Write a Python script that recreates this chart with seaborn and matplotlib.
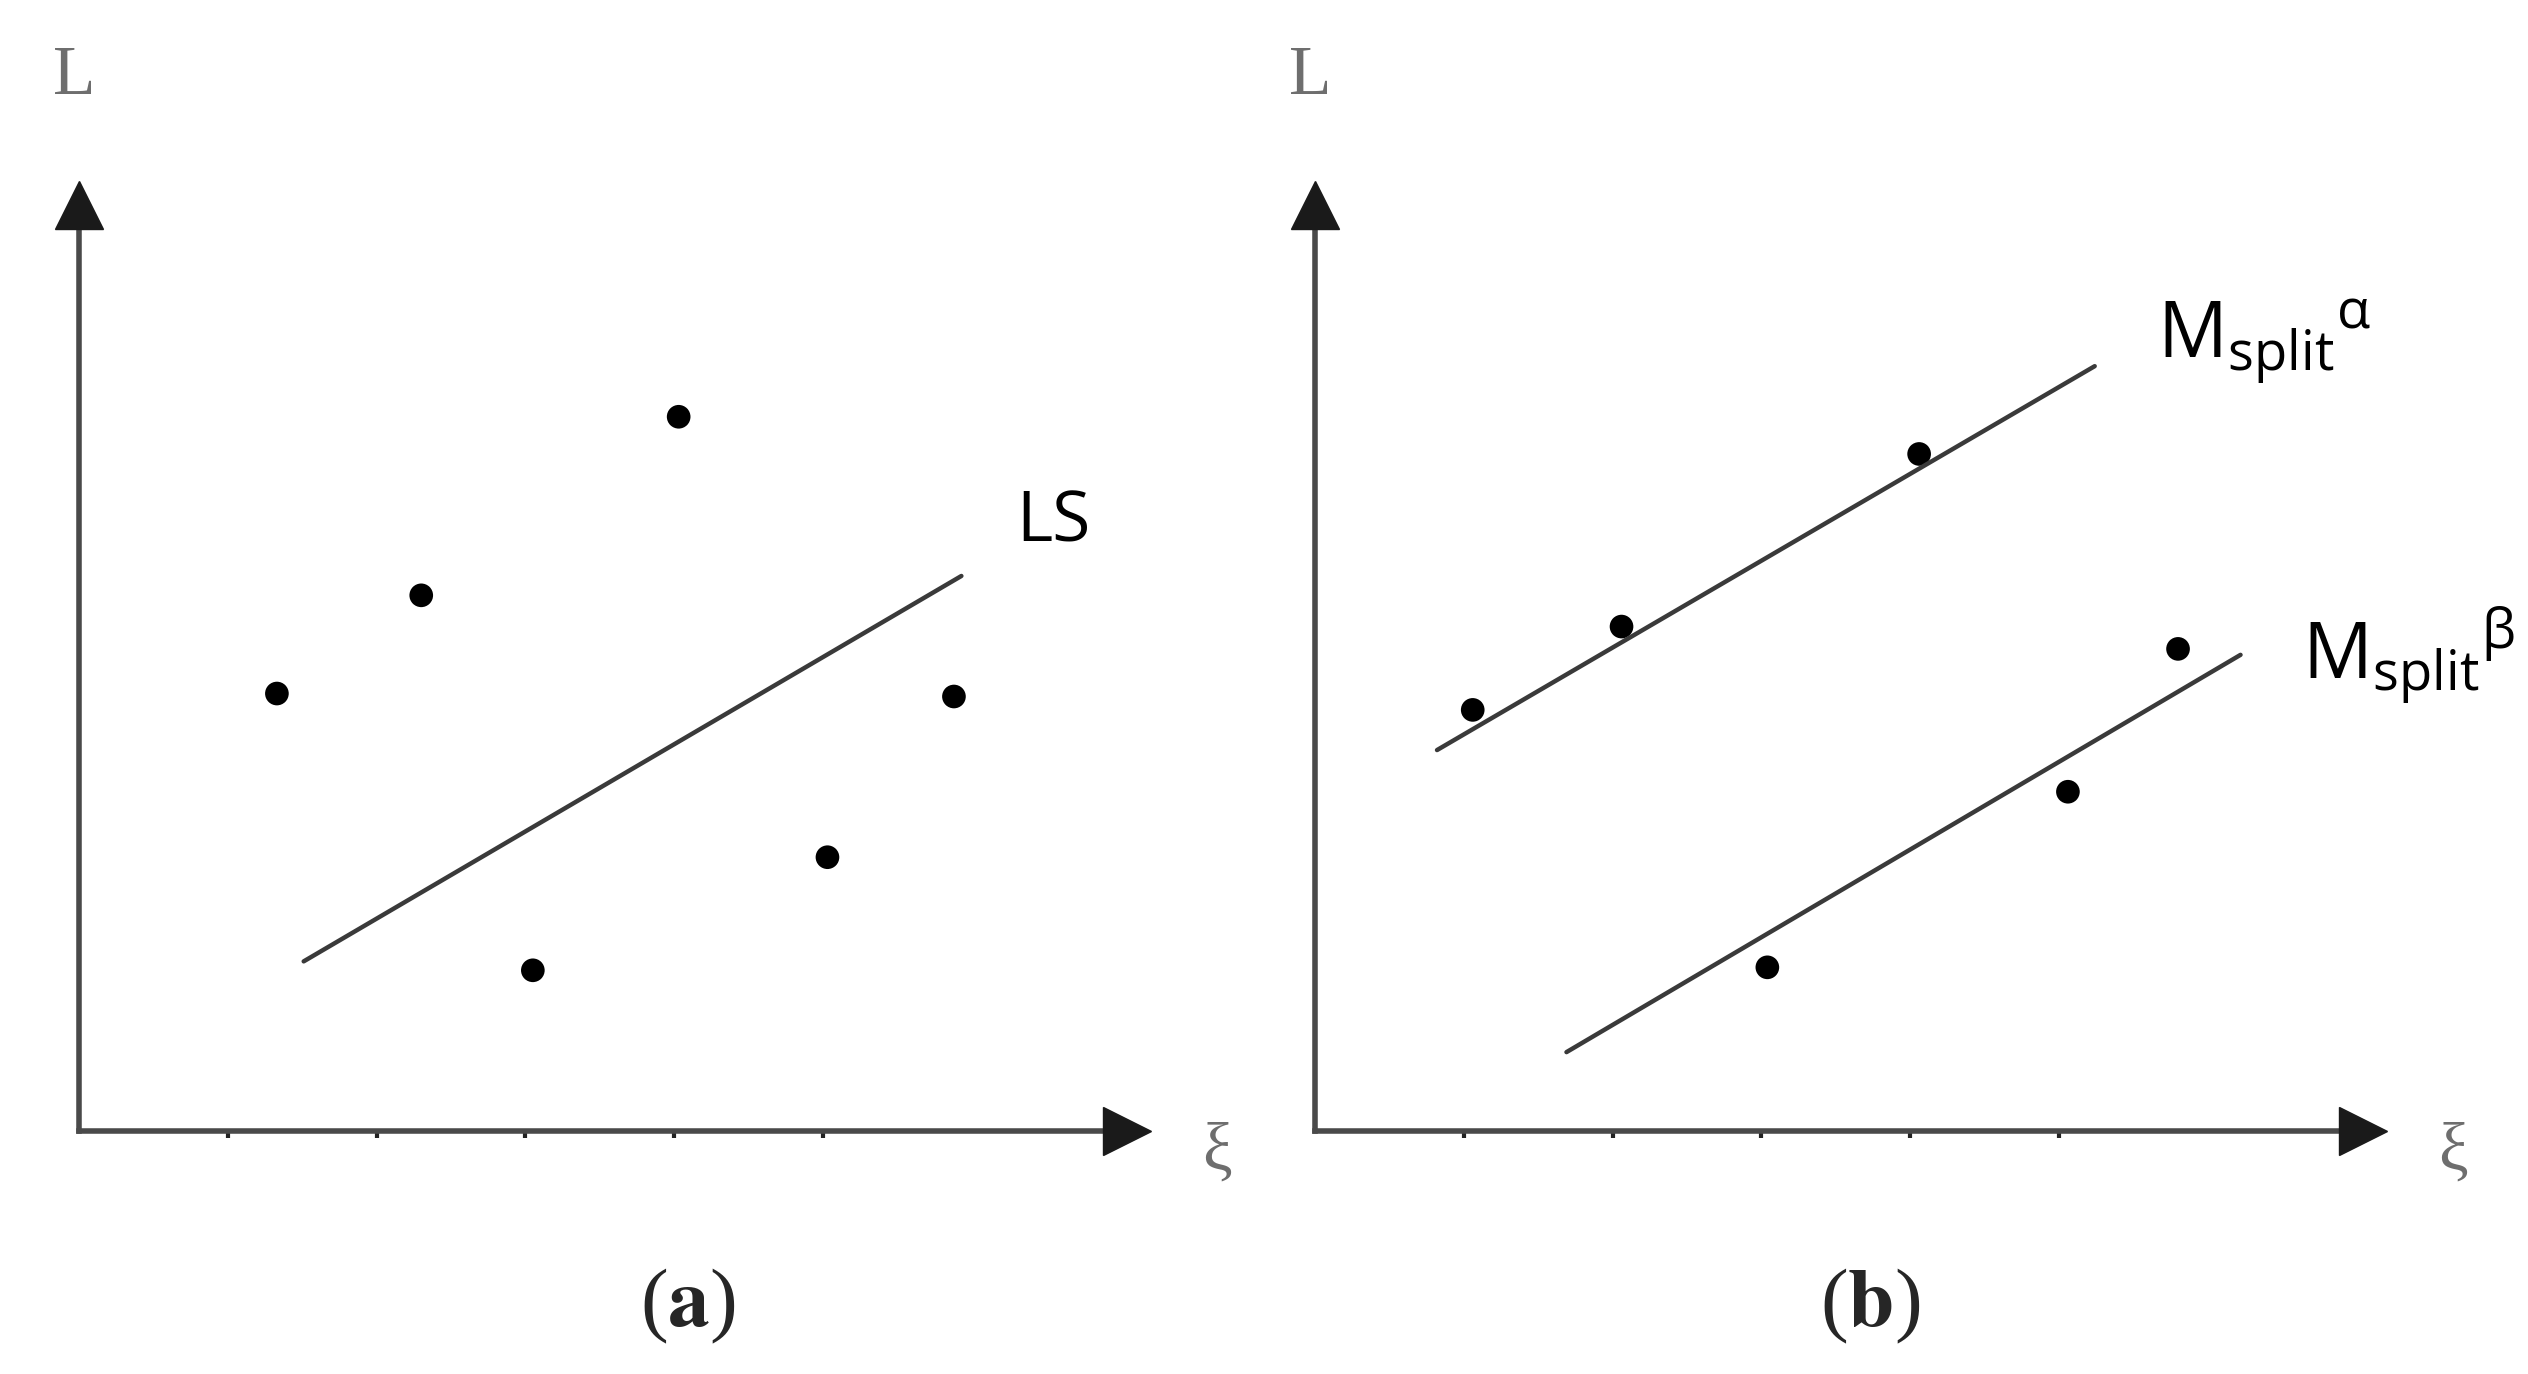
import matplotlib
matplotlib.use("Agg")
import matplotlib.pyplot as plt
import seaborn as sns

# Panel (a): scattered points with a single least-squares line
a_x = [1.33, 2.30, 4.03, 3.05, 5.03, 5.88]
a_y = [2.94, 3.60, 4.80, 1.08, 1.84, 2.92]
ls_x = [1.51, 5.93]
ls_y = [1.14, 3.73]

# Panel (b): two groups, each with its own line
b_x = [1.06, 2.06, 4.06, 3.04, 5.06, 5.80]
b_y = [2.83, 3.39, 4.55, 1.10, 2.28, 3.24]
alpha_x = [0.82, 5.24]
alpha_y = [2.56, 5.14]
beta_x = [1.69, 6.22]
beta_y = [0.53, 3.20]

tick_pos = [1, 2, 3, 4, 5]
x_end, y_end = 7.04, 6.22   # arrowhead centres

sns.set_style("white")
plt.rcParams["font.family"] = ["Open Sans", "DejaVu Sans"]
plt.rcParams["mathtext.fontset"] = "custom"
plt.rcParams["mathtext.rm"] = "Open Sans"
plt.rcParams["mathtext.it"] = "Open Sans:italic"
plt.rcParams["mathtext.bf"] = "Open Sans:bold"

W, H = 2528, 1374
unit = 148.8  # pixels per data unit
fig = plt.figure(figsize=(W / 100, H / 100), dpi=100)

axis_col = "#4a4a4a"
line_col = "#3a3a3a"
label_col = "#6e6e6e"
serif = ["Liberation Serif", "DejaVu Serif"]


def make_axes(x0_px, y0_px):
    ax = fig.add_axes([x0_px / W, (H - y0_px) / H, x_end * unit / W, y_end * unit / H])
    ax.set_xlim(0, x_end)
    ax.set_ylim(0, y_end)
    sns.despine(ax=ax)
    for s in ["left", "bottom"]:
        ax.spines[s].set_color(axis_col)
        ax.spines[s].set_linewidth(4.0)
    ax.set_xticks(tick_pos)
    ax.set_xticklabels([])
    ax.set_yticks([])
    ax.tick_params(axis="x", bottom=True, direction="out", length=5, width=3,
                   color="#222222")
    ax.plot([x_end], [0], marker=">", ms=35, color="#1a1a1a", clip_on=False, zorder=5)
    ax.plot([0], [y_end], marker="^", ms=35, color="#1a1a1a", clip_on=False, zorder=5)
    ax.text(-0.03, y_end + 0.86, "L", fontsize=50, color=label_col, family=serif,
            ha="center", va="center")
    ax.text(x_end + 0.61, -0.15, "ξ", fontsize=48, color=label_col, family=serif,
            ha="center", va="center")
    return ax


ax_a = make_axes(79, 1131)
sns.lineplot(x=ls_x, y=ls_y, ax=ax_a, color=line_col, linewidth=3.2)
sns.scatterplot(x=a_x, y=a_y, ax=ax_a, color="black", s=290, edgecolor="none")
ax_a.text(6.30, 3.96, "LS", fontsize=50, color="black", ha="left", va="baseline")
ax_a.text(4.09, -1.18, r"($\mathbf{a}$)", fontsize=60, family=serif, math_fontfamily="stix",
          ha="center", va="center", clip_on=False)

ax_b = make_axes(1315, 1131)
sns.lineplot(x=alpha_x, y=alpha_y, ax=ax_b, color=line_col, linewidth=3.2)
sns.lineplot(x=beta_x, y=beta_y, ax=ax_b, color=line_col, linewidth=3.2)
sns.scatterplot(x=b_x, y=b_y, ax=ax_b, color="black", s=290, edgecolor="none")
ax_b.text(5.66, 5.20, r"M$_{\mathrm{split}}{}^{\mathrm{\alpha}}$", fontsize=56,
          color="black", ha="left", va="baseline")
ax_b.text(6.63, 3.04, r"M$_{\mathrm{split}}{}^{\mathrm{\beta}}$", fontsize=56,
          color="black", ha="left", va="baseline", clip_on=False)
ax_b.text(3.73, -1.18, r"($\mathbf{b}$)", fontsize=60, family=serif, math_fontfamily="stix",
          ha="center", va="center", clip_on=False)

fig.savefig("out.png", dpi=100, facecolor="white")
